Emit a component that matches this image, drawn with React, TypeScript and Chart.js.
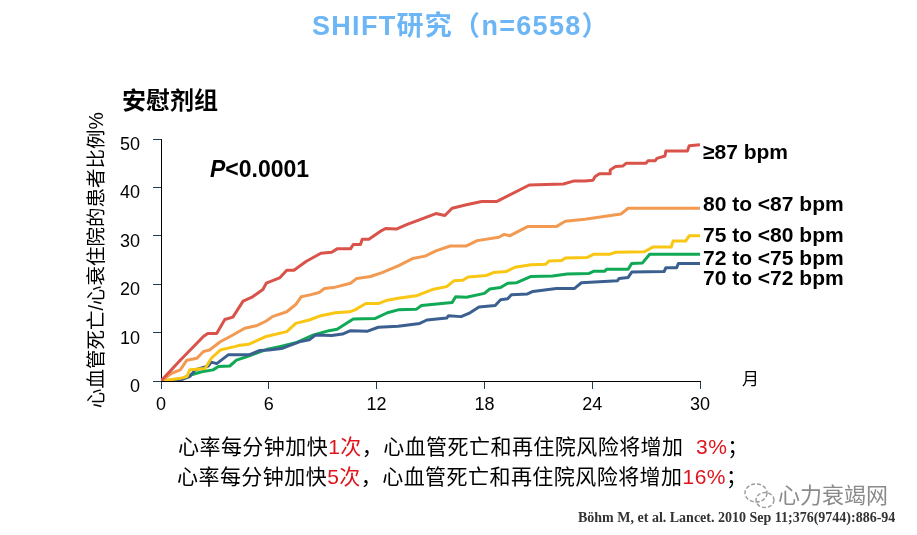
import React, { useEffect, useRef } from "react";
import { Chart, registerables } from "chart.js";

Chart.register(...registerables);

const SANS = '"Liberation Sans", "Noto Sans CJK SC", sans-serif';

const xTicks = [0, 6, 12, 18, 24, 30];
const yTicks = [0, 10, 20, 30, 40, 50];
const yTitle = "心血管死亡/心衰住院的患者比例%";

const redMonths = [0,1.07,2.36,2.6,3.1,3.55,4,4.57,5.1,5.67,5.86,6.6,7,7.4,8.07,8.9,9.5,9.8,10.55,10.7,11.1,11.2,11.57,12.2,12.5,13.1,13.67,14.6,15.3,15.8,16.2,17,17.85,18.7,20.5,22.4,22.95,23.6,24.05,24.15,24.4,25,25,25.3,25.7,25.9,27,27.1,27.5,27.6,28.05,28.1,29.3,29.4,30];
const redRates = [0,4.3,9.2,9.8,9.8,12.7,13.2,16.5,17.4,18.9,20.2,21.3,22.9,22.9,24.7,26.4,26.6,27.3,27.3,28.2,28.2,29.3,29.3,30.9,31.5,31.4,32.3,33.6,34.6,34.2,35.7,36.4,37.1,37.1,40.5,40.7,41.3,41.3,41.5,42.2,42.8,42.8,43.6,44.3,44.4,45,45,45.5,45.5,46,46.5,47.5,47.5,48.6,48.8];

const orangeMonths = [0,0.6,1.07,1.44,2,2.36,2.7,3.3,4,4.66,5.3,5.86,6.2,7,7.5,7.8,8.3,8.8,9.1,9.6,10.55,10.9,11.66,12.3,13.2,14,14.7,15.3,16.1,17,17.6,18.8,19.1,19.4,20.4,22,22.5,23.6,25.6,26,30];
const orangeRates = [0,1.6,2.3,4.3,4.7,6.1,6.4,8.1,9.5,10.9,11.4,12.4,13.3,14.3,15.8,17.4,17.8,18.3,19.1,19.3,20.2,21.2,21.6,22.4,23.8,25.3,25.8,26.9,27.9,27.9,29,29.7,30.3,30,31.9,31.9,33,33.4,34.5,35.7,35.7];

const yellowMonths = [0,1.07,1.44,1.6,2.45,2.8,3.3,4.1,4.4,4.9,5.86,7,7.5,8.25,8.9,9.7,10.5,10.8,11.4,12.1,12.6,13.2,14.2,15.1,15.9,16.3,16.8,17.1,18.1,18.5,19.2,19.7,20.6,21.4,21.6,22.3,22.5,23.7,24.1,25,25.3,26.9,27.4,28.4,28.5,29.2,29.4,30];
const yellowRates = [0,0.55,0.9,2.3,2.6,4.7,6.4,7.1,7.4,7.6,9.2,10.2,11.9,12.6,13.5,14.1,14.3,14.7,16,16,16.7,17.1,17.6,18.9,19.5,20.7,20.8,21.5,21.8,22.4,22.6,23.5,24,24.1,24.8,24.9,25.4,25.5,26.2,26.2,26.6,26.7,27.7,27.7,28.9,28.9,30,30];

const blueMonths = [0,1.07,1.6,1.9,2.63,2.8,3.1,3.74,4.9,5.5,6,6.7,7.7,8.25,8.6,9.5,10.1,10.55,11.5,12.1,13.2,14.4,14.8,15.9,16,16.7,17.2,17.7,18.6,18.9,19.3,19.5,20.4,20.7,22,23,23.4,24.4,25.4,25.5,26,26.2,28,28.1,28.7,28.8,30];
const blueRates = [0,0.2,0.9,2.3,3.1,3.9,3.6,5.4,5.4,6.3,6.4,6.7,8.1,8.5,9.5,9.4,9.7,10.4,10.3,11.1,11.3,11.9,12.6,13,13.5,13.3,14.1,15.3,15.6,16.8,17,17.8,18,18.5,19.1,19.1,20.3,20.5,20.7,21.2,21.4,22.5,22.6,23.4,23.4,24.3,24.3];

const greenMonths = [0,1.07,1.6,2.26,2.9,3.2,3.83,4.2,4.75,5.86,6.6,7.5,8.4,9.35,9.8,10.7,11.9,12.6,13.2,14.2,14.5,16.2,16.4,17,18,18.3,18.9,19.3,19.8,20.6,21.8,22.6,23.8,24.1,24.7,24.8,26,26.2,26.8,27.2,30];
const greenRates = [0,0.35,1.2,1.9,2.3,3,3.1,4.3,5,6.5,7.1,7.9,9.4,10.4,10.7,12.8,12.9,14.1,14.7,14.8,15.6,16.2,17.4,17.3,18.1,19,19.3,20.2,20.3,21.6,21.7,22.1,22.2,22.7,22.7,23.1,23.1,24.3,24.4,26.2,26.2];

const seriesLabels = ["≥87 bpm", "80 to <87 bpm", "75 to <80 bpm", "72 to <75 bpm", "70 to <72 bpm"];
const labelYs = [151, 203, 234, 257, 277];

const zip = (xs: number[], ys: number[]) => xs.map((x, i) => ({ x, y: ys[i] }));

const lineSet = (label: string, xs: number[], ys: number[], color: string) => ({
  label,
  data: zip(xs, ys),
  borderColor: color,
  borderWidth: 3,
  pointRadius: 0,
  tension: 0,
  fill: false,
  borderJoinStyle: "round" as const,
});

function Txt({ x, y, style, children }: { x: number; y: number; style?: React.CSSProperties; children: React.ReactNode }) {
  return (
    <span
      style={{
        position: "absolute",
        left: x,
        top: y,
        transform: "translateY(-50%)",
        whiteSpace: "pre",
        lineHeight: 1,
        fontFamily: SANS,
        color: "#000",
        ...style,
      }}
    >
      {children}
    </span>
  );
}

const RED = "#e0141c";

export default function App() {
  const ref = useRef<HTMLCanvasElement>(null);

  useEffect(() => {
    const chart = new Chart(ref.current as HTMLCanvasElement, {
      type: "line",
      data: {
        datasets: [
          lineSet(seriesLabels[0], redMonths, redRates, "#d9534a"),
          lineSet(seriesLabels[1], orangeMonths, orangeRates, "#f39a52"),
          lineSet(seriesLabels[2], yellowMonths, yellowRates, "#f9c613"),
          lineSet(seriesLabels[4], blueMonths, blueRates, "#3b6090"),
          lineSet(seriesLabels[3], greenMonths, greenRates, "#10a955"),
        ],
      },
      options: {
        animation: false,
        responsive: false,
        layout: { padding: { left: 86, right: 217, top: 139, bottom: 0 } },
        plugins: { legend: { display: false }, title: { display: false }, tooltip: { enabled: false } },
        scales: {
          x: {
            type: "linear",
            min: 0,
            max: 30,
            afterFit: (s: any) => { s.height = 154; },
            afterBuildTicks: (s: any) => { s.ticks = xTicks.map((value) => ({ value })); },
            border: { color: "#000", width: 1 },
            grid: { drawOnChartArea: false, drawTicks: true, tickLength: 8, color: "#1f3f50" },
            ticks: { color: "#000", font: { family: SANS, size: 18 }, padding: 5, maxRotation: 0 },
          },
          y: {
            min: 0,
            max: 50,
            afterFit: (s: any) => { s.width = 75; },
            afterBuildTicks: (s: any) => { s.ticks = yTicks.map((value) => ({ value })); },
            border: { color: "#000", width: 1 },
            grid: { drawOnChartArea: false, drawTicks: true, tickLength: 8, color: "#1f3f50" },
            ticks: { color: "#000", font: { family: SANS, size: 18 }, padding: 13, labelOffset: 6 },
            title: {
              display: true,
              text: yTitle,
              color: "#000",
              font: { family: SANS, size: 19.5 },
              padding: 0,
            },
          },
        },
      },
    } as any);
    return () => chart.destroy();
  }, []);

  return (
    <div style={{ position: "absolute", left: 0, top: 0, width: 917, height: 535, background: "#fff", overflow: "hidden" }}>
      <canvas ref={ref} width={917} height={535} style={{ position: "absolute", left: 0, top: 0 }} />
      <Txt x={312} y={26} style={{ fontSize: 27, fontWeight: 700, color: "#6db6f6", letterSpacing: 1.3 }}>SHIFT研究（n=6558）</Txt>
      <Txt x={122} y={101} style={{ fontSize: 24, fontWeight: 700 }}>安慰剂组</Txt>
      <Txt x={210} y={169} style={{ fontSize: 23, fontWeight: 700 }}><i>P</i>&lt;0.0001</Txt>
      {seriesLabels.map((t, i) => (
        <Txt key={t} x={703} y={labelYs[i]} style={{ fontSize: 21, fontWeight: 700 }}>{t}</Txt>
      ))}
      <Txt x={742} y={379} style={{ fontSize: 17 }}>月</Txt>
      <Txt x={178} y={446} style={{ fontSize: 21, letterSpacing: 0.45 }}>
        心率每分钟加快<span style={{ color: RED }}>1次</span>，心血管死亡和再住院风险将增加 <span style={{ color: RED }}> 3%</span>；
      </Txt>
      <Txt x={177} y={476} style={{ fontSize: 21, letterSpacing: 0.45 }}>
        心率每分钟加快<span style={{ color: RED }}>5次</span>，心血管死亡和再住院风险将增加<span style={{ color: RED }}>16%</span>；
      </Txt>
      <Txt x={778} y={496} style={{ fontSize: 22, color: "#8a8a8a" }}>心力衰竭网</Txt>
      <svg width={34} height={28} style={{ position: "absolute", left: 743, top: 482 }} fill="none" stroke="#9a9a9a" strokeWidth={1.4}>
        <ellipse cx={13} cy={11} rx={11} ry={9} strokeDasharray="4 2" />
        <ellipse cx={22} cy={18} rx={9} ry={7.5} strokeDasharray="4 2" />
      </svg>
      <Txt x={578} y={518} style={{ fontSize: 14, fontWeight: 700, fontFamily: '"Liberation Serif", serif', color: "#333" }}>
        Böhm M, et al. Lancet. 2010 Sep 11;376(9744):886-94
      </Txt>
    </div>
  );
}
